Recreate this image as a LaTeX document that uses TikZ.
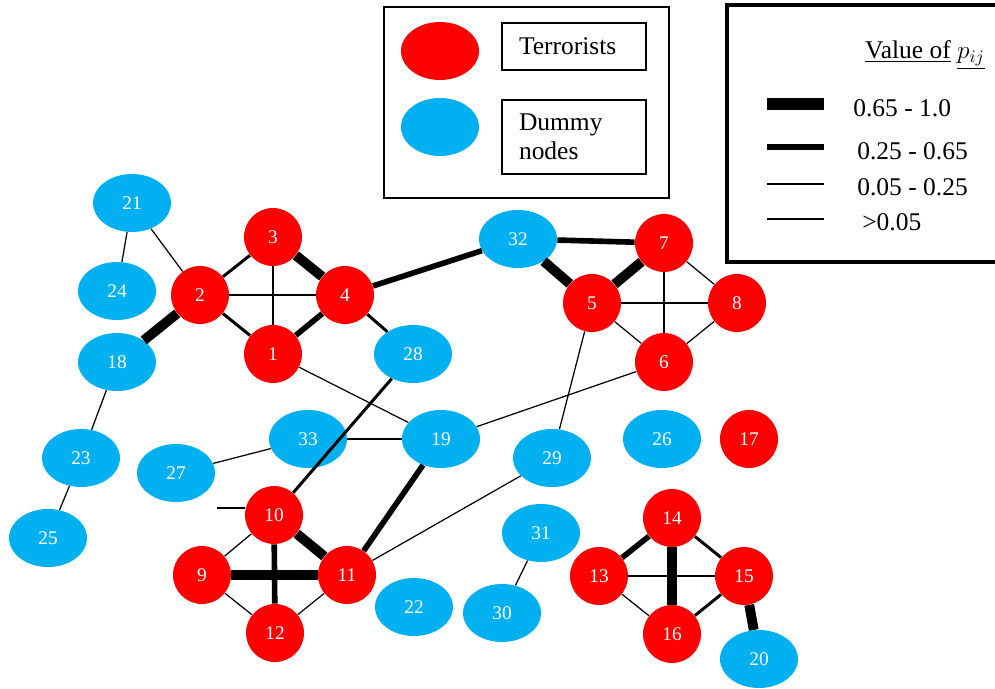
\documentclass[tikz,border=0pt]{standalone}
\usepackage{fontspec}
\setmainfont{Liberation Serif}
\usetikzlibrary{shapes.geometric}
\usetikzlibrary{positioning}

\definecolor{terred}{HTML}{FF0000}
\definecolor{dumblue}{HTML}{00B0F0}

\tikzset{
terror/.style={circle, fill=terred, minimum size=1.16cm, inner sep=0pt, text=white, font=\fontsize{11}{13}\selectfont},
dummy/.style={ellipse, fill=dumblue, minimum width=1.56cm, minimum height=1.16cm, inner sep=0pt, text=white, font=\fontsize{11}{13}\selectfont},
legtext/.style={font=\fontsize{14.5}{16.5}\selectfont},
pvhigh/.style={line width=5.6pt},
phigh/.style={line width=3.2pt},
pmid/.style={line width=1.7pt},
plow/.style={line width=0.7pt}
}

\begin{document}
\begin{tikzpicture}[x=0.02cm, y=-0.02cm]
\useasboundingbox (0,0) rectangle (995,689);

% legends
\draw[line width=0.8pt] (384,7) rectangle (669,198);
\node[dummy, fill=terred] (legT) at (440,51) {};
\node[dummy] (legD) at (440,127) {};
\node[draw, line width=0.8pt, legtext, text width=2.2cm, inner xsep=0.34cm, minimum height=0.94cm, align=left] (legTtxt) at (574,46.5) {Terrorists};
\node[draw, line width=0.8pt, legtext, text width=2.2cm, inner xsep=0.34cm, minimum height=1.48cm, align=left] (legDtxt) at (574,137) {Dummy\\nodes};

\draw[line width=1.8pt] (727,5) rectangle (998,262);
\node[legtext, inner sep=0pt] (title) at (925,55) {\underline{Value of} $\underline{p_{ij}}$};
\node[legtext, anchor=west, inner sep=0pt] (val1) at (853,108) {0.65 - 1.0};
\node[legtext, anchor=west, inner sep=0pt] (val2) at (857,151) {0.25 - 0.65};
\node[legtext, anchor=west, inner sep=0pt] (val3) at (857,187) {0.05 - 0.25};
\node[legtext, anchor=west, inner sep=0pt] (val4) at (862,222) {>0.05};
\draw[line width=6.5pt] (767,104) -- (824,104);
\draw[phigh] (767,147) -- (824,147);
\draw[pmid] (767,184) -- (824,184);
\draw[plow] (767,219) -- (824,219);

% terrorists
\node[terror] (n1) at (273,354) {1};
\node[terror] (n2) at (200,295) {2};
\node[terror] (n3) at (273,237) {3};
\node[terror] (n4) at (345,295) {4};
\node[terror] (n5) at (592,303) {5};
\node[terror] (n6) at (664,362) {6};
\node[terror] (n7) at (664,243) {7};
\node[terror] (n8) at (737,303) {8};
\node[terror] (n9) at (202,575) {9};
\node[terror] (n10) at (274,515) {10};
\node[terror] (n11) at (347,575) {11};
\node[terror] (n12) at (275,633) {12};
\node[terror] (n13) at (599,576) {13};
\node[terror] (n14) at (672,518) {14};
\node[terror] (n15) at (744,576) {15};
\node[terror] (n16) at (672,634) {16};
\node[terror] (n17) at (749,439) {17};

% dummy nodes
\node[dummy] (n18) at (117,362) {18};
\node[dummy] (n19) at (441,439) {19};
\node[dummy] (n20) at (759,659) {20};
\node[dummy] (n21) at (132,203) {21};
\node[dummy] (n22) at (414,607) {22};
\node[dummy] (n23) at (81,458) {23};
\node[dummy] (n24) at (117,291) {24};
\node[dummy] (n25) at (48,538) {25};
\node[dummy] (n26) at (662,439) {26};
\node[dummy] (n27) at (176,473) {27};
\node[dummy] (n28) at (413,354) {28};
\node[dummy] (n29) at (552,458) {29};
\node[dummy] (n30) at (502,613) {30};
\node[dummy] (n31) at (541,533) {31};
\node[dummy] (n32) at (518,239) {32};
\node[dummy] (n33) at (308,439) {33};

\coordinate (stubA) at (217,508);
\coordinate (stubB) at (245,508);

\draw[plow] (n21) -- (n24);
\draw[plow] (n21) -- (n2);
\draw[pvhigh] (n2) -- (n18);
\draw[plow] (n18) -- (n23);
\draw[plow] (n23) -- (n25);
\draw[pmid] (n2) -- (n3);
\draw[pmid] (n2) -- (n4);
\draw[pmid] (n2) -- (n1);
\draw[pmid] (n3) -- (n1);
\draw[pvhigh] (n3) -- (n4);
\draw[phigh] (n4) -- (n1);
\draw[pmid] (n4) -- (n28);
\draw[phigh] (n4) -- (n32);
\draw[plow] (n1) -- (n19);
\draw[pmid] (n28) -- (n10);
\draw[phigh] (n32) -- (n7);
\draw[pvhigh] (n32) -- (n5);
\draw[pvhigh] (n5) -- (n7);
\draw[plow] (n7) -- (n6);
\draw[plow] (n7) -- (n8);
\draw[plow] (n5) -- (n8);
\draw[plow] (n5) -- (n6);
\draw[plow] (n8) -- (n6);
\draw[plow] (n5) -- (n29);
\draw[plow] (n6) -- (n19);
\draw[plow] (n33) -- (n19);
\draw[plow] (n33) -- (n27);
\draw[phigh] (n19) -- (n11);
\draw[plow] (n29) -- (n11);
\draw[pvhigh] (n10) -- (n11);
\draw[phigh] (n10) -- (n12);
\draw[pvhigh] (n9) -- (n11);
\draw[plow] (n10) -- (n9);
\draw[plow] (n9) -- (n12);
\draw[plow] (n12) -- (n11);
\draw[pmid] (stubA) -- (stubB);
\draw[plow] (n31) -- (n30);
\draw[phigh] (n14) -- (n13);
\draw[pvhigh] (n14) -- (n16);
\draw[pmid] (n14) -- (n15);
\draw[plow] (n13) -- (n15);
\draw[plow] (n13) -- (n16);
\draw[pmid] (n16) -- (n15);
\draw[pvhigh] (n15) -- (n20);
\end{tikzpicture}
\end{document}
